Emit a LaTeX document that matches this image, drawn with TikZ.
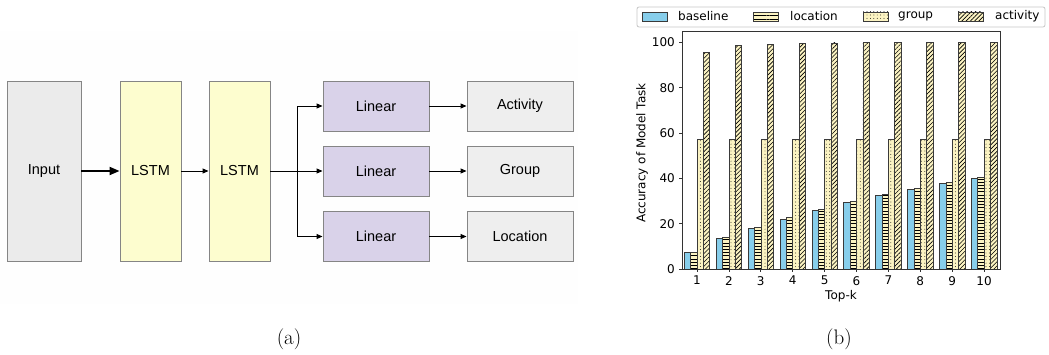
\documentclass[tikz,border=0pt]{standalone}
\usepackage{fontspec}
\usetikzlibrary{arrows.meta,patterns.meta}
\newfontfamily\boxfont{Liberation Sans}
\newfontfamily\plotfont{DejaVu Sans}

\definecolor{panelbg}{HTML}{FEFEFE}
\definecolor{inputfill}{HTML}{EBEBEB}
\definecolor{lstmfill}{HTML}{FDFDCF}
\definecolor{linfill}{HTML}{D9D2E9}
\definecolor{outfill}{HTML}{EEEEEE}
\definecolor{boxedge}{HTML}{858585}
\definecolor{skyb}{HTML}{87CEEB}
\definecolor{lemon}{HTML}{FBF3C2}
\definecolor{baredge}{HTML}{3A3A3A}

\tikzset{
  blk/.style={draw=boxedge, line width=0.9pt, inner sep=0pt, font=\boxfont\fontsize{14.5}{16}\selectfont},
  tallbox/.style={blk, minimum height=180pt},
  flatbox/.style={blk, minimum width=106pt, minimum height=50pt},
  thin/.style={line width=0.9pt, -{Triangle[length=6pt,width=5pt]}},
  thick/.style={line width=1.9pt, -{Triangle[length=10pt,width=8pt]}},
  barbase/.style={draw=baredge, line width=0.6pt},
  basebar/.style={barbase, fill=skyb},
  locbar/.style={barbase, preaction={fill=lemon}, pattern={Lines[angle=0,distance=3.2pt,line width=0.7pt]}},
  grpbar/.style={barbase, preaction={fill=lemon}, pattern={Dots[distance=3.4pt,radius=0.45pt]}},
  actbar/.style={barbase, preaction={fill=lemon}, pattern={Lines[angle=45,distance=3pt,line width=0.6pt]}},
  ticklab/.style={inner sep=0pt, font=\plotfont\fontsize{12}{14}\selectfont},
  legtext/.style={inner sep=0pt, anchor=west, font=\plotfont\fontsize{12}{14}\selectfont},
  caption/.style={inner sep=0pt, font=\fontsize{21}{24}\selectfont}
}

\begin{document}
\begin{tikzpicture}[x=1pt,y=-1pt]
\useasboundingbox[fill=white] (0,0) rectangle (1049,355);

% ---------- network diagram ----------
\fill[panelbg] (0,31) rectangle (578,304);

\node[tallbox, fill=inputfill, minimum width=74pt] (inp) at (44,171) {Input};
\node[tallbox, fill=lstmfill, minimum width=61pt] (lstm1) at (150.5,171) {LSTM};
\node[tallbox, fill=lstmfill, minimum width=61pt] (lstm2) at (239.5,171) {LSTM};

\node[flatbox, fill=linfill] (lin1) at (376,106) {Linear};
\node[flatbox, fill=linfill] (lin2) at (376,171) {Linear};
\node[flatbox, fill=linfill] (lin3) at (376,236.5) {Linear};

\node[flatbox, fill=outfill] (act) at (520,106) {Activity};
\node[flatbox, fill=outfill] (grp) at (520,171) {Group};
\node[flatbox, fill=outfill] (loc) at (520,236.5) {Location};

\coordinate (split) at (297,171);

\draw[thick] (inp) -- (lstm1);
\draw[thin] (lstm1) -- (lstm2);
\draw[line width=0.9pt] (lstm2.east) -- (split);
\draw[thin] (split) |- (lin1.west);
\draw[thin] (split) -- (lin2.west);
\draw[thin] (split) |- (lin3.west);
\draw[thin] (lin1) -- (act);
\draw[thin] (lin2) -- (grp);
\draw[thin] (lin3) -- (loc);

\node[caption] (capa) at (289,339) {(a)};

% ---------- bar chart ----------
\begin{scope}[shift={(665.1pt,-269pt)}, x={(31.9pt,0pt)}, y={(0pt,2.267pt)}]
  \foreach \k/\b/\l/\a in {1/7.3/7.5/95.6, 2/13.7/14.0/98.7, 3/17.9/18.3/99.2,
      4/22.1/22.6/99.5, 5/25.8/26.3/99.7, 6/29.4/29.8/99.8, 7/32.6/33.0/99.9,
      8/35.1/35.6/99.9, 9/37.8/38.3/100, 10/40.0/40.6/100} {
    \draw[basebar] ({\k-0.4},0) rectangle ({\k-0.2},\b);
    \draw[locbar]  ({\k-0.2},0) rectangle (\k,\l);
    \draw[grpbar]  (\k,0) rectangle ({\k+0.2},57.3);
    \draw[actbar]  ({\k+0.2},0) rectangle ({\k+0.4},\a);
  }
  \draw[black!80, line width=0.8pt] (0.53,0) rectangle (10.5,105);
  \foreach \v in {0,20,40,60,80,100} {
    \draw[black!80, line width=0.8pt] (0.53,\v) -- ++(-3.5pt,0pt);
    \node[ticklab, anchor=east] at ([xshift=-7pt]0.53,\v) {\v};
  }
  \foreach \k in {1,...,10} {
    \draw[black!80, line width=0.8pt] (\k,0) -- ++(0pt,-3.5pt);
    \node[ticklab, anchor=north] at ([yshift=-7pt]\k,0) {\k};
  }
\end{scope}

\node[ticklab, rotate=90] (ylab) at (642,153) {Accuracy of Model Task};
\node[ticklab] (xlab) at (841,296) {Top-k};

% legend
\draw[black!22, fill=white, rounded corners=2pt, line width=0.8pt] (637,7) rectangle (1045,27);
\draw[basebar] (642,12) rectangle (667,21);
\node[legtext] (lg1) at (678,16.5) {baseline};
\draw[locbar] (753,12) rectangle (778,21);
\node[legtext] (lg2) at (790,16.5) {location};
\draw[grpbar] (863,12) rectangle (888,21);
\node[legtext] (lg3) at (898,16.5) {group};
\draw[actbar] (958,12) rectangle (983,21);
\node[legtext] (lg4) at (995,16.5) {activity};

\node[caption] (capb) at (839,339) {(b)};
\end{tikzpicture}
\end{document}
